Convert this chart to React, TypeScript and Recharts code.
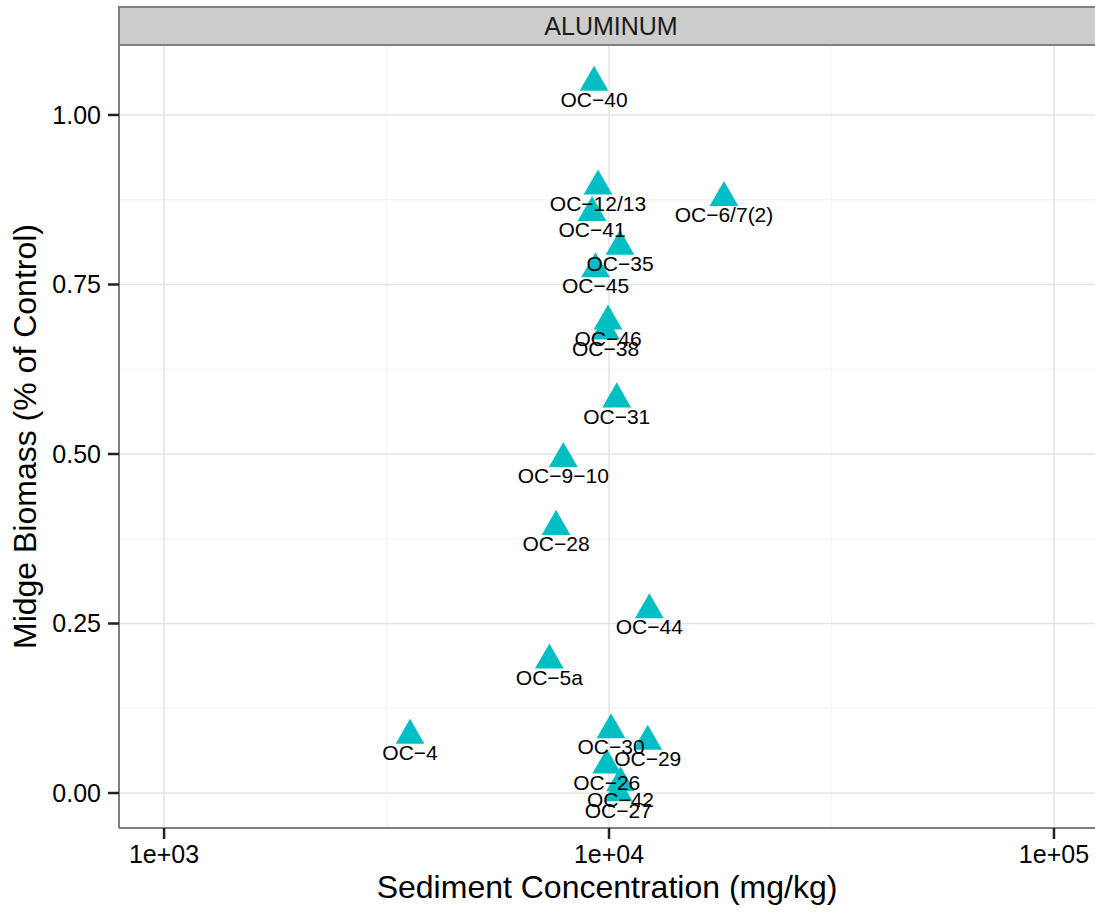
import React from "react";
import {
  ScatterChart,
  Scatter,
  XAxis,
  YAxis,
  CartesianGrid,
} from "recharts";

// site labels, sediment aluminum (mg/kg), midge biomass (fraction of control)
const sites = [
  "OC−40", "OC−12/13", "OC−6/7(2)", "OC−41", "OC−35", "OC−45", "OC−46",
  "OC−38", "OC−31", "OC−9−10", "OC−28", "OC−44", "OC−5a", "OC−4",
  "OC−30", "OC−29", "OC−26", "OC−42", "OC−27",
];
const concentration = [
  9253, 9447, 18130, 9159, 10585, 9326, 9948, 9820, 10407, 7894, 7602,
  12320, 7344, 3571, 10104, 12218, 9881, 10612, 10493,
];
const biomass = [
  1.048, 0.895, 0.878, 0.856, 0.806, 0.773, 0.696, 0.681, 0.581, 0.493,
  0.393, 0.27, 0.196, 0.085, 0.093, 0.076, 0.041, 0.015, 0.0,
];

const xTicks = [1e3, 1e4, 1e5];
const xTickLabels = ["1e+03", "1e+04", "1e+05"];
const yTicks = [0, 0.25, 0.5, 0.75, 1];
const xMinor = [3162, 31623];
const yMinor = [0.125, 0.375, 0.625, 0.875];

const FONT = "'Liberation Sans', Arial, Helvetica, sans-serif";
const TEAL = "#00BFC4";

const data = sites.map((s, i) => ({
  site: s,
  x: concentration[i],
  y: biomass[i],
}));

const Triangle = (props: any) => {
  const { cx, cy } = props;
  const r = 16.7;
  const hw = 14.4;
  return (
    <polygon
      points={`${cx},${cy - r} ${cx + hw},${cy + r / 2} ${cx - hw},${cy + r / 2}`}
      fill={TEAL}
    />
  );
};

const SiteLabel = (props: any) => {
  const { cx, cy, payload } = props;
  return (
    <text
      x={cx}
      y={cy + 24.5}
      textAnchor="middle"
      fontSize={21}
      fontFamily={FONT}
      fill="#000"
    >
      {payload.site}
    </text>
  );
};

export default function App() {
  return (
    <div
      style={{
        position: "absolute",
        left: 0,
        top: 0,
        width: 1095,
        height: 913,
        overflow: "hidden",
        background: "#fff",
        fontFamily: FONT,
      }}
    >
      <ScatterChart
        width={1095}
        height={913}
        margin={{ top: 45, right: 0, bottom: 0, left: 0 }}
        style={{ fontFamily: FONT }}
      >
        <CartesianGrid
          stroke="#f5f5f5"
          strokeWidth={1.5}
          verticalValues={xMinor}
          horizontalValues={yMinor}
        />
        <CartesianGrid
          stroke="#e4e4e4"
          strokeWidth={1.5}
          verticalValues={xTicks}
          horizontalValues={yTicks}
        />
        <XAxis
          dataKey="x"
          type="number"
          scale="log"
          domain={[792, 123650]}
          allowDataOverflow
          ticks={xTicks}
          tickFormatter={(v: number) => xTickLabels[xTicks.indexOf(v)] ?? String(v)}
          height={85}
          tickSize={11}
          tickMargin={6}
          tick={{ fill: "#000", fontSize: 25 }}
          tickLine={{ stroke: "#222", strokeWidth: 2.5 }}
          axisLine={{ stroke: "#7f7f7f", strokeWidth: 2 }}
          label={{
            value: "Sediment Concentration (mg/kg)",
            position: "insideBottom",
            offset: 15,
            fontSize: 32,
            fill: "#000",
          }}
        />
        <YAxis
          dataKey="y"
          type="number"
          domain={[-0.0516, 1.1032]}
          allowDataOverflow
          ticks={yTicks}
          tickFormatter={(v: number) => v.toFixed(2)}
          width={119}
          tickSize={11}
          tickMargin={7}
          tick={{ fill: "#000", fontSize: 25 }}
          tickLine={{ stroke: "#222", strokeWidth: 2.5 }}
          axisLine={{ stroke: "#7f7f7f", strokeWidth: 2 }}
          label={{
            value: "Midge Biomass (% of Control)",
            angle: -90,
            position: "insideLeft",
            offset: 25,
            fontSize: 32,
            fill: "#000",
            style: { textAnchor: "middle" },
          }}
        />
        <Scatter data={data} shape={<Triangle />} isAnimationActive={false} />
        <Scatter data={data} shape={<SiteLabel />} isAnimationActive={false} />
      </ScatterChart>
      <div
        style={{
          position: "absolute",
          left: 118,
          top: 6,
          width: 982,
          height: 36,
          background: "#cccccc",
          border: "2px solid #7f7f7f",
          display: "flex",
          alignItems: "center",
          justifyContent: "center",
          fontSize: 25,
          color: "#1a1a1a",
          fontFamily: FONT,
        }}
      >
        ALUMINUM
      </div>
    </div>
  );
}
